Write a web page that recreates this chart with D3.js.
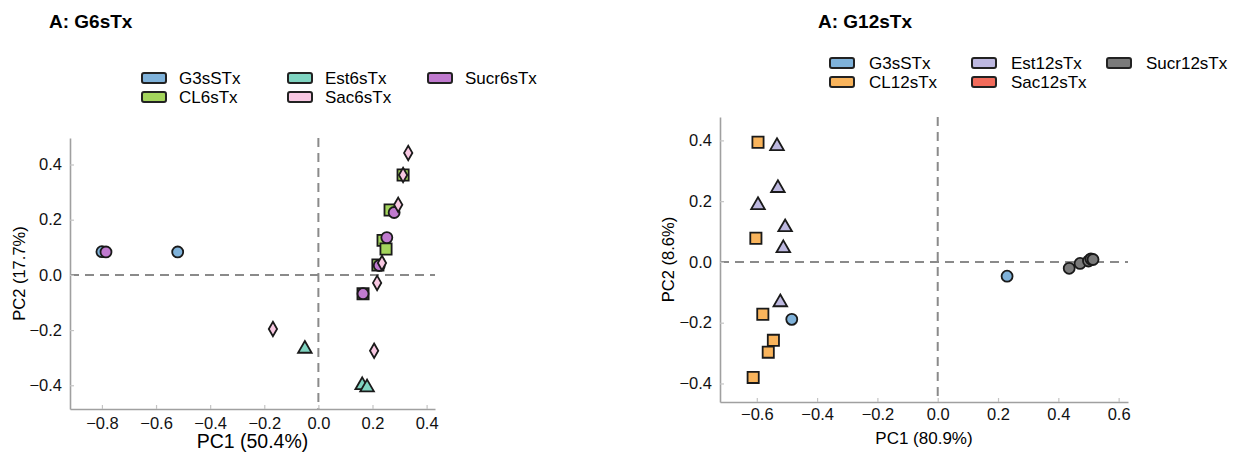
<!DOCTYPE html>
<html>
<head>
<meta charset="utf-8">
<script src="https://cdn.jsdelivr.net/npm/d3@7"></script>
<style>
  body { margin: 0; background: #fff; font-family: "Liberation Sans", Arial, sans-serif; }
  .tick text { font-family: "Liberation Sans", Arial, sans-serif; }
</style>
</head>
<body>
<div class="draw"></div>
<script>
// ---- data: panel 1 (G6sTx) ----
const groups6 = ["G3sSTx", "CL6sTx", "Est6sTx", "Sac6sTx", "Sucr6sTx"];
const g3s_6 = [[-0.80, 0.084], [-0.52, 0.083]];
const cl_6 = [[0.265, 0.235], [0.239, 0.125], [0.25, 0.094], [0.22, 0.036], [0.165, -0.068], [0.313, 0.362]];
const est_6 = [[-0.05, -0.268], [0.162, -0.40], [0.18, -0.408]];
const sac_6 = [[0.332, 0.442], [0.313, 0.362], [0.295, 0.254], [0.235, 0.043], [0.217, -0.029], [-0.168, -0.196], [0.206, -0.275]];
const sucr_6 = [[-0.785, 0.083], [0.28, 0.226], [0.253, 0.135], [0.225, 0.034], [0.165, -0.068]];
const xTicks6 = [-0.8, -0.6, -0.4, -0.2, 0.0, 0.2, 0.4];
const yTicks6 = [-0.4, -0.2, 0.0, 0.2, 0.4];

// ---- data: panel 2 (G12sTx) ----
const groups12 = ["G3sSTx", "CL12sTx", "Est12sTx", "Sac12sTx", "Sucr12sTx"];
const g3s_12 = [[-0.484, -0.189], [0.23, -0.047]];
const cl_12 = [[-0.596, 0.394], [-0.603, 0.078], [-0.58, -0.172], [-0.545, -0.258], [-0.562, -0.297], [-0.612, -0.38]];
const est_12 = [[-0.533, 0.381], [-0.53, 0.243], [-0.596, 0.187], [-0.506, 0.114], [-0.512, 0.045], [-0.522, -0.133]];
const sac_12 = [[0.498, 0.006], [0.506, 0.012], [0.51, 0.004]];
const sucr_12 = [[0.436, -0.021], [0.472, -0.005], [0.50, 0.003], [0.508, 0.01], [0.515, 0.008]];
const xTicks12 = [-0.6, -0.4, -0.2, 0.0, 0.2, 0.4, 0.6];
const yTicks12 = [-0.4, -0.2, 0.0, 0.2, 0.4];

const svg = d3.select(".draw")
  .append("svg")
  .attr("width", 1243)
  .attr("height", 455);

const sym = {
  circle: d3.symbol().type(d3.symbolCircle).size(95),
  small: d3.symbol().type(d3.symbolCircle).size(40),
  square: d3.symbol().type(d3.symbolSquare).size(125),
  triangle: d3.symbol().type(d3.symbolTriangle).size(80),
  diamond: d3.symbol().type(d3.symbolDiamond).size(60)
};

function drawPanel(p) {
  const x = d3.scaleLinear().domain(p.xDomain).range([p.left, p.right]);
  const y = d3.scaleLinear().domain(p.yDomain).range([p.bottom, p.top]);

  svg.append("text")
    .attr("x", p.titleX).attr("y", 28)
    .attr("font-size", 19).attr("font-weight", "bold")
    .text(p.title);

  // legend: column-major, 2 rows
  p.legend.forEach((l, i) => {
    const col = Math.floor(i / 2), row = i % 2;
    const lx = p.legendCols[col], ly = p.legendRows[row];
    svg.append("rect")
      .attr("x", lx).attr("y", ly - 5)
      .attr("width", 24).attr("height", 10)
      .attr("rx", 2)
      .attr("fill", l.color)
      .attr("stroke", "#222").attr("stroke-width", 2);
    svg.append("text")
      .attr("x", lx + p.legendGap).attr("y", ly + 6)
      .attr("font-size", 17)
      .text(l.name);
  });

  // zero lines
  svg.append("line")
    .attr("x1", x(0)).attr("x2", x(0))
    .attr("y1", p.top).attr("y2", p.bottom)
    .attr("stroke", "#8a8a8a").attr("stroke-width", 2)
    .attr("stroke-dasharray", "9,6");
  svg.append("line")
    .attr("x1", p.left).attr("x2", p.right)
    .attr("y1", y(0)).attr("y2", y(0))
    .attr("stroke", "#8a8a8a").attr("stroke-width", 2)
    .attr("stroke-dasharray", "9,6");

  // axes
  const xAxis = d3.axisBottom(x).tickValues(p.xTicks).tickSizeInner(-4).tickSizeOuter(0)
    .tickPadding(p.xPad).tickFormat(d3.format(".1f"));
  const yAxis = d3.axisLeft(y).tickValues(p.yTicks).tickSizeInner(-4).tickSizeOuter(0)
    .tickPadding(8).tickFormat(d3.format(".1f"));

  const gx = svg.append("g").attr("transform", `translate(0,${p.bottom})`).call(xAxis);
  const gy = svg.append("g").attr("transform", `translate(${p.left},0)`).call(yAxis);
  [gx, gy].forEach(g => {
    g.select(".domain").attr("stroke", "#a0a0a0").attr("stroke-width", 1.6);
    g.selectAll(".tick line").attr("stroke", "#c4c4c4").attr("stroke-width", 1.2);
    g.selectAll(".tick text").attr("font-size", 16.5).attr("fill", "#111");
  });

  svg.append("text")
    .attr("x", (p.left + p.right) / 2).attr("y", p.xTitleY)
    .attr("text-anchor", "middle").attr("font-size", p.xTitleSize)
    .text(p.xTitle);
  svg.append("text")
    .attr("transform", `translate(${p.yTitleX},${(p.top + p.bottom) / 2}) rotate(-90)`)
    .attr("text-anchor", "middle").attr("font-size", 16.5)
    .text(p.yTitle);

  // points
  p.series.forEach(s => {
    svg.append("g").selectAll("path")
      .data(s.data)
      .join("path")
      .attr("transform", d => `translate(${x(d[0])},${y(d[1])})`)
      .attr("d", sym[s.shape])
      .attr("fill", s.color)
      .attr("stroke", "#1a1a1a")
      .attr("stroke-width", 1.8);
  });
}

const c = {
  blue: "#7fb2da", green: "#a3d45c", teal: "#7fd4c1", pink: "#f8c8e2", purple: "#c07acf",
  orange: "#f9b45c", lav: "#bdb8e0", red: "#f26b5b", gray: "#7a7a7a"
};

drawPanel({
  title: "A: G6sTx", titleX: 49,
  left: 70, right: 435, top: 138, bottom: 409,
  xDomain: [-0.918, 0.431], yDomain: [-0.486, 0.496],
  xTicks: xTicks6, yTicks: yTicks6, xPad: 8,
  xTitle: "PC1 (50.4%)", xTitleY: 448, xTitleSize: 19.5,
  yTitle: "PC2 (17.7%)", yTitleX: 25,
  legendCols: [142, 288, 428], legendRows: [78, 97], legendGap: 37,
  legend: [
    { name: groups6[0], color: c.blue },
    { name: groups6[1], color: c.green },
    { name: groups6[2], color: c.teal },
    { name: groups6[3], color: c.pink },
    { name: groups6[4], color: c.purple }
  ],
  series: [
    { data: g3s_6, shape: "circle", color: c.blue },
    { data: cl_6, shape: "square", color: c.green },
    { data: est_6, shape: "triangle", color: c.teal },
    { data: sucr_6, shape: "circle", color: c.purple },
    { data: sac_6, shape: "diamond", color: c.pink }
  ]
});

drawPanel({
  title: "A: G12sTx", titleX: 818,
  left: 720, right: 1128, top: 117, bottom: 402,
  xDomain: [-0.722, 0.631], yDomain: [-0.461, 0.477],
  xTicks: xTicks12, yTicks: yTicks12, xPad: 6,
  xTitle: "PC1 (80.9%)", xTitleY: 444, xTitleSize: 17,
  yTitle: "PC2 (8.6%)", yTitleX: 674,
  legendCols: [830, 972, 1107], legendRows: [63, 82], legendGap: 39,
  legend: [
    { name: groups12[0], color: c.blue },
    { name: groups12[1], color: c.orange },
    { name: groups12[2], color: c.lav },
    { name: groups12[3], color: c.red },
    { name: groups12[4], color: c.gray }
  ],
  series: [
    { data: g3s_12, shape: "circle", color: c.blue },
    { data: cl_12, shape: "square", color: c.orange },
    { data: est_12, shape: "triangle", color: c.lav },
    { data: sac_12, shape: "small", color: c.red },
    { data: sucr_12, shape: "circle", color: c.gray }
  ]
});
</script>
</body>
</html>
